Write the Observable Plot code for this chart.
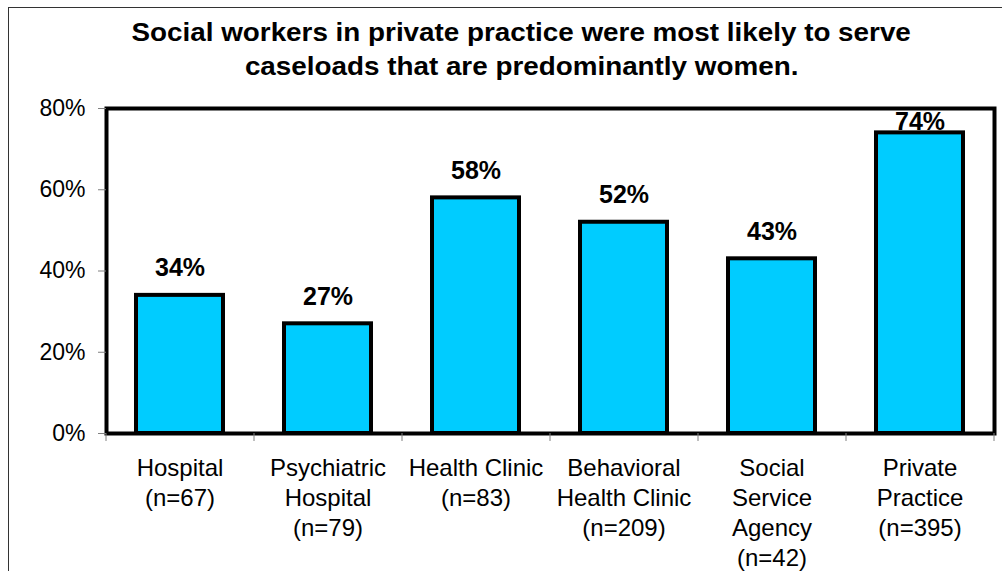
<!DOCTYPE html>
<html>
<head>
<meta charset="utf-8">
<script src="https://cdn.jsdelivr.net/npm/d3@7"></script>
<script src="https://cdn.jsdelivr.net/npm/@observablehq/plot@0.6"></script>
<style>
  html, body { margin: 0; padding: 0; background: #fff; }
  #wrap { position: relative; width: 1002px; height: 571px; overflow: hidden; font-family: "Liberation Sans", Arial, sans-serif; color: #000; }
  #border { position: absolute; left: 8px; top: 7px; width: 1100px; height: 700px; border: 1px solid #333; }
  #title { position: absolute; left: 8px; top: 16px; width: 1027px; text-align: center; font-weight: bold; font-size: 26px; line-height: 33.5px; }
  #title span { display: inline-block; transform: scaleX(1.07); transform-origin: center; white-space: nowrap; }
  #chart { position: absolute; left: 0; top: 0; }
</style>
</head>
<body>
<div id="wrap">
  <div id="border"></div>
  <div id="chart"></div>
  <div id="title"><span>Social workers in private practice were most likely to serve</span><br><span>caseloads that are predominantly women.</span></div>
</div>
<script>
const categories = [
  "Hospital\n(n=67)",
  "Psychiatric\nHospital\n(n=79)",
  "Health Clinic\n(n=83)",
  "Behavioral\nHealth Clinic\n(n=209)",
  "Social\nService\nAgency\n(n=42)",
  "Private\nPractice\n(n=395)"
];
const values = [34, 27, 58, 52, 43, 74];
const yTicks = [0, 20, 40, 60, 80];

const data = categories.map((c, i) => ({category: c, value: values[i]}));

const W = 1002, H = 571;
const mL = 106, mR = 8, mT = 108, mB = 138;
const halfStep = (W - mL - mR) / categories.length / 2;
const labelCeiling = 70.1;

const chart = Plot.plot({
  width: W,
  height: H,
  marginLeft: mL,
  marginRight: mR,
  marginTop: mT,
  marginBottom: mB,
  style: {fontFamily: "'Liberation Sans', Arial, sans-serif", color: "#000", background: "transparent", overflow: "visible"},
  x: {domain: categories, paddingInner: 0.41, paddingOuter: 0.205, label: null},
  y: {domain: [0, 80], label: null},
  marks: [
    Plot.barY(data, {x: "category", y: "value", fill: "#00CCFF", stroke: "#000", strokeWidth: 4}),
    Plot.frame({stroke: "#000", strokeWidth: 4}),
    Plot.axisY({ticks: yTicks, tickFormat: d => d + "%", tickSize: 8, tickPadding: 13, fontSize: 23, stroke: "#808080", fill: "#000", label: null}),
    Plot.axisX({tickSize: 0, tickPadding: 21, fontSize: 24, lineHeight: 1.25, lineAnchor: "top", fill: "#000", label: null}),
    Plot.axisX({tickSize: 8, tickFormat: () => "", dx: -halfStep, stroke: "#808080", label: null}),
    Plot.axisX({ticks: [categories[categories.length - 1]], tickSize: 8, tickFormat: () => "", dx: halfStep, stroke: "#808080", label: null}),
    Plot.text(data, {x: "category", y: d => Math.min(d.value, labelCeiling), dy: -19, text: d => d.value + "%", fontSize: 25, fontWeight: "bold", lineAnchor: "bottom", fill: "#000"})
  ]
});
document.getElementById("chart").appendChild(chart);
</script>
</body>
</html>
